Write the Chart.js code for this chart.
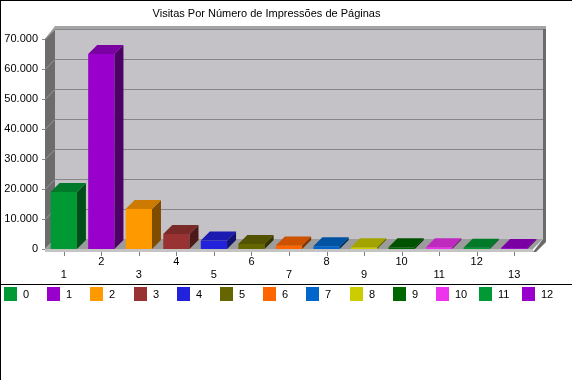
<!DOCTYPE html>
<html>
<head>
<meta charset="utf-8">
<script src="https://cdn.jsdelivr.net/npm/chart.js@4"></script>
<style>
  html, body { margin: 0; padding: 0; background: #fff; }
  #wrap { position: relative; width: 572px; height: 380px; overflow: hidden; background: #fff; }
  #c { position: absolute; left: 0; top: 0; }
  .line { position: absolute; background: #000; }
  .item { position: absolute; top: 287px; height: 14px; font: 11px "Liberation Sans", Arial, sans-serif; color: #000; }
  .box { position: absolute; left: 0; top: 0; width: 13px; height: 14px; }
  .lab { position: absolute; left: 19px; top: 0; line-height: 14px; white-space: nowrap; }
</style>
</head>
<body>
<div id="wrap">
  <canvas id="c" width="572" height="284"></canvas>
  <div class="line" style="left:0;top:0;width:572px;height:1px"></div>
  <div class="line" style="left:0;top:0;width:1px;height:380px"></div>
  <div class="line" style="left:0;top:284px;width:572px;height:1px"></div>
  <div id="legend"></div>
</div>
<script>
const chartTitle = 'Visitas Por Número de Impressões de Páginas';
const categories = ['1','2','3','4','5','6','7','8','9','10','11','12','13'];
const visits = [19000, 65000, 13300, 5000, 2800, 1700, 1200, 900, 600, 550, 600, 400, 300];
const barColors = ['#009933','#9900cc','#ff9900','#993333','#2222dd','#666600','#ff6600','#0066cc','#cccc00','#006600','#ee33ee','#009933','#9900cc'];
const legendLabels = ['0','1','2','3','4','5','6','7','8','9','10','11','12'];
const yMin = 0, yMax = 70000, yStep = 10000;

const FONT = '"Liberation Sans", Arial, sans-serif';
const WALL_D = 10;   // wall depth
const BAR_D = 9;     // bar depth

function fmt(v) { return String(v).replace(/\B(?=(\d{3})+(?!\d))/g, '.'); }

function shade(hex, f) {
  const n = parseInt(hex.slice(1), 16);
  const r = Math.round(((n >> 16) & 255) * f), g = Math.round(((n >> 8) & 255) * f), b = Math.round((n & 255) * f);
  return 'rgb(' + r + ',' + g + ',' + b + ')';
}

function poly(ctx, pts, fill) {
  ctx.beginPath();
  ctx.moveTo(pts[0][0], pts[0][1]);
  for (let i = 1; i < pts.length; i++) ctx.lineTo(pts[i][0], pts[i][1]);
  ctx.closePath();
  ctx.fillStyle = fill;
  ctx.fill();
}

const threeD = {
  id: 'threeD',
  beforeDatasetsDraw(chart) {
    const ctx = chart.ctx, a = chart.chartArea, ys = chart.scales.y, xs = chart.scales.x;
    const D = WALL_D;
    const L = a.left, R = a.right, T = a.top, B = a.bottom;
    ctx.save();
    // back wall
    ctx.fillStyle = '#c4c2c6';
    ctx.fillRect(L + D, T - D, R - L, B - T);
    // wall top edge
    poly(ctx, [[L - 1, T + 1], [L + D, T - D - 3], [R + D + 3, T - D - 3], [R + D + 3, T - D], [L + D, T - D], [L, T + 1]], '#a4a4a4');
    // right edge of back wall
    poly(ctx, [[R + D, T - D], [R + D + 3, T - D], [R + D + 3, B - D + 3], [R + 3, B + 3], [R, B + 3], [R + D, B - D]], '#6a6a6a');
    // left wall
    poly(ctx, [[L, T], [L + D, T - D], [L + D, B - D], [L, B]], '#6c6c6c');
    // gridlines
    ctx.lineWidth = 1;
    for (let v = yMin + yStep; v <= yMax; v += yStep) {
      const y = Math.round(ys.getPixelForValue(v)) + 0.5;
      ctx.strokeStyle = '#868686';
      ctx.beginPath(); ctx.moveTo(L + D, y - D); ctx.lineTo(R + D, y - D); ctx.stroke();
      ctx.strokeStyle = '#9a9a9a';
      ctx.beginPath(); ctx.moveTo(L, y); ctx.lineTo(L + D, y - D); ctx.stroke();
    }
    // y tick marks
    ctx.strokeStyle = '#8a8a8a';
    for (let v = yMin; v <= yMax; v += yStep) {
      const y = Math.round(ys.getPixelForValue(v)) + 0.5;
      ctx.beginPath(); ctx.moveTo(L - 3, y); ctx.lineTo(L, y); ctx.stroke();
    }
    // floor
    poly(ctx, [[L, B], [L + D, B - D], [R + D, B - D], [R, B]], '#9c9c9c');
    // floor front lip
    ctx.fillStyle = '#c4c4c4';
    ctx.fillRect(L, B, R - L, 3);
    // x tick marks
    ctx.strokeStyle = '#808080';
    for (let i = 0; i < categories.length; i++) {
      const x = Math.round(xs.getPixelForValue(i)) + 0.5;
      ctx.beginPath(); ctx.moveTo(x, B + 3); ctx.lineTo(x, B + 7); ctx.stroke();
    }
    ctx.restore();
  },
  afterDatasetsDraw(chart) {
    const ctx = chart.ctx, meta = chart.getDatasetMeta(0);
    const d = BAR_D;
    ctx.save();
    meta.data.forEach((bar, i) => {
      const p = bar.getProps(['x', 'y', 'base', 'width'], true);
      const l = p.x - p.width / 2, r = p.x + p.width / 2, t = p.y, b = p.base;
      const c = barColors[i];
      poly(ctx, [[r, t], [r + d, t - d], [r + d, b - d], [r, b]], shade(c, 0.5));
      poly(ctx, [[l, t], [l + d, t - d], [r + d, t - d], [r, t]], shade(c, 0.8));
    });
    ctx.restore();
  }
};

new Chart(document.getElementById('c'), {
  type: 'bar',
  data: {
    labels: categories,
    datasets: [{
      data: visits,
      backgroundColor: barColors,
      borderWidth: 0,
      barPercentage: 0.7,
      categoryPercentage: 1
    }]
  },
  options: {
    responsive: false,
    animation: false,
    devicePixelRatio: 1,
    layout: { padding: { left: 0, right: 39, top: 0, bottom: 0 } },
    plugins: {
      legend: { display: false },
      tooltip: { enabled: false },
      title: {
        display: true,
        text: chartTitle,
        color: '#000',
        font: { family: FONT, size: 11, weight: 'normal' },
        padding: { top: 7, bottom: 18.8 }
      }
    },
    scales: {
      x: {
        grid: { display: false, drawTicks: false },
        border: { display: false },
        ticks: {
          autoSkip: false, maxRotation: 0, padding: 6, color: '#000',
          font: { family: FONT, size: 11 },
          callback: (v, i) => (i % 2 === 0 ? ['', categories[i]] : categories[i])
        },
        afterFit: s => { s.height = 35; }
      },
      y: {
        min: yMin, max: yMax,
        grid: { display: false, drawTicks: false },
        border: { display: false },
        ticks: {
          stepSize: yStep, padding: 7, color: '#000',
          font: { family: FONT, size: 11 },
          callback: v => fmt(v)
        },
        afterFit: s => { s.width = 45; }
      }
    }
  },
  plugins: [threeD]
});

// legend
const lg = document.getElementById('legend');
legendLabels.forEach((t, i) => {
  const it = document.createElement('div');
  it.className = 'item';
  it.style.left = Math.round(4 + 43.2 * i) + 'px';
  const bx = document.createElement('div');
  bx.className = 'box';
  bx.style.background = barColors[i];
  const lb = document.createElement('div');
  lb.className = 'lab';
  lb.textContent = t;
  it.appendChild(bx); it.appendChild(lb);
  lg.appendChild(it);
});
</script>
</body>
</html>
